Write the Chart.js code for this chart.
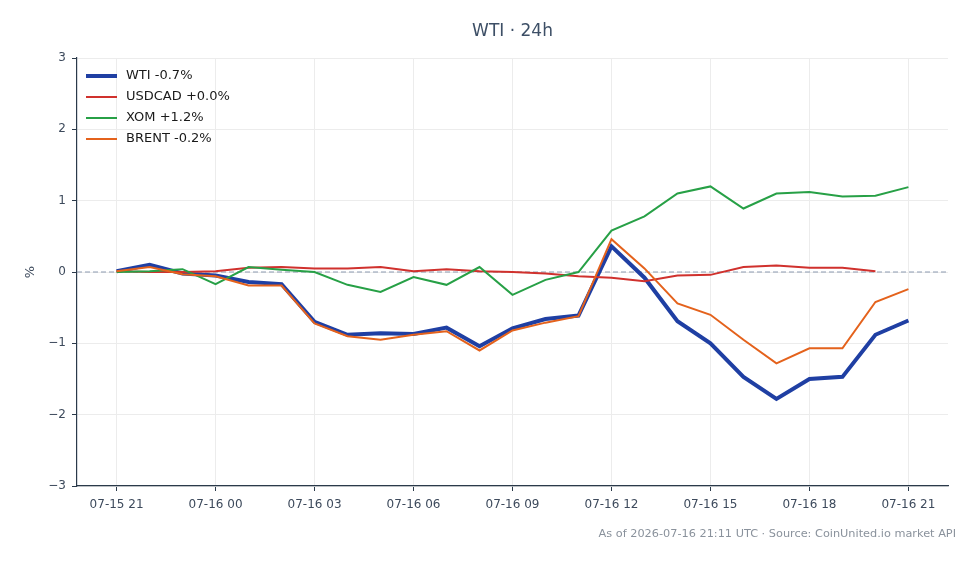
<!DOCTYPE html>
<html>
<head>
<meta charset="utf-8">
<script src="https://cdn.jsdelivr.net/npm/chart.js@4"></script>
<style>
  html, body { margin: 0; padding: 0; background: #fff; }
  #wrap { width: 980px; height: 564px; }
</style>
</head>
<body>
<div id="wrap"><canvas id="chart" width="980" height="564"></canvas></div>
<script>
// hourly points, 07-15 21 -> 07-16 21
const hours = ['07-15 21', '07-15 22', '07-15 23', '07-16 00', '07-16 01', '07-16 02', '07-16 03',
  '07-16 04', '07-16 05', '07-16 06', '07-16 07', '07-16 08', '07-16 09', '07-16 10', '07-16 11',
  '07-16 12', '07-16 13', '07-16 14', '07-16 15', '07-16 16', '07-16 17', '07-16 18', '07-16 19',
  '07-16 20', '07-16 21'];

const wti = [0.01, 0.10, -0.02, -0.05, -0.14, -0.17, -0.70, -0.88, -0.86, -0.87, -0.78, -1.04, -0.79,
  -0.66, -0.61, 0.36, -0.08, -0.69, -1.00, -1.47, -1.78, -1.50, -1.47, -0.88, -0.68];
const usdcad = [0.01, 0.00, 0.00, 0.01, 0.06, 0.07, 0.05, 0.05, 0.07, 0.01, 0.04, 0.01, 0.00,
  -0.02, -0.06, -0.08, -0.13, -0.05, -0.04, 0.07, 0.09, 0.06, 0.06, 0.01];
const xom = [0.00, 0.01, 0.04, -0.17, 0.07, 0.03, 0.00, -0.18, -0.28, -0.07, -0.18, 0.07, -0.32,
  -0.11, 0.00, 0.58, 0.78, 1.10, 1.20, 0.89, 1.10, 1.12, 1.06, 1.07, 1.19];
const brent = [0.01, 0.07, -0.03, -0.06, -0.19, -0.19, -0.72, -0.90, -0.95, -0.88, -0.83, -1.10, -0.82,
  -0.71, -0.62, 0.46, 0.05, -0.44, -0.60, -0.95, -1.28, -1.07, -1.07, -0.42, -0.24];

const seriesLabels = ['WTI -0.7%', 'USDCAD +0.0%', 'XOM +1.2%', 'BRENT -0.2%'];
const xTicks = [0, 3, 6, 9, 12, 15, 18, 21, 24];
const yTicks = [-3, -2, -1, 0, 1, 2, 3];

const FONT = 'DejaVu Sans';
const axisText = '#3d4a5c';

function pts(arr) { return arr.map((v, i) => ({ x: i, y: v })); }

const overlay = {
  id: 'overlay',
  beforeDatasetsDraw(chart) {
    const { ctx, chartArea: a, scales: { y } } = chart;
    const y0 = y.getPixelForValue(0);
    ctx.save();
    ctx.strokeStyle = '#8c9ab0';
    ctx.lineWidth = 1;
    ctx.setLineDash([5, 3]);
    ctx.beginPath();
    ctx.moveTo(a.left, y0);
    ctx.lineTo(a.right, y0);
    ctx.stroke();
    ctx.restore();
  },
  afterDraw(chart) {
    const { ctx, chartArea: a } = chart;
    ctx.save();
    // title
    ctx.fillStyle = '#3d4f66';
    ctx.font = '17px ' + FONT;
    ctx.textAlign = 'center';
    ctx.textBaseline = 'middle';
    ctx.fillText('WTI · 24h', (a.left + a.right) / 2, 32);
    // y axis label
    ctx.save();
    ctx.translate(31, (a.top + a.bottom) / 2);
    ctx.rotate(-Math.PI / 2);
    ctx.fillStyle = axisText;
    ctx.font = '13px ' + FONT;
    ctx.fillText('%', 0, 0);
    ctx.restore();
    // footer
    ctx.fillStyle = '#8a929c';
    ctx.font = '11.3px ' + FONT;
    ctx.textAlign = 'right';
    ctx.fillText('As of 2026-07-16 21:11 UTC · Source: CoinUnited.io market API', 956, 534);
    // legend
    ctx.font = '13px ' + FONT;
    ctx.textAlign = 'left';
    chart.data.datasets.forEach((ds, i) => {
      const yy = 76 + i * 21;
      ctx.strokeStyle = ds.borderColor;
      ctx.lineWidth = ds.borderWidth;
      ctx.beginPath();
      ctx.moveTo(86, yy);
      ctx.lineTo(117, yy);
      ctx.stroke();
      ctx.fillStyle = '#1a1a1a';
      ctx.fillText(ds.label, 126, yy);
    });
    ctx.restore();
  }
};

new Chart(document.getElementById('chart'), {
  type: 'line',
  data: {
    datasets: [
      { label: seriesLabels[0], data: pts(wti), borderColor: '#1f3fa3', borderWidth: 4, order: 4 },
      { label: seriesLabels[1], data: pts(usdcad), borderColor: '#d0312d', borderWidth: 2, order: 3 },
      { label: seriesLabels[2], data: pts(xom), borderColor: '#27a046', borderWidth: 2, order: 2 },
      { label: seriesLabels[3], data: pts(brent), borderColor: '#e4621c', borderWidth: 2, order: 1 }
    ]
  },
  options: {
    responsive: false,
    animation: false,
    layout: { padding: { top: 58, right: 32, left: 0, bottom: 0 } },
    elements: { point: { radius: 0 }, line: { tension: 0, fill: false } },
    plugins: { legend: { display: false }, tooltip: { enabled: false } },
    scales: {
      x: {
        type: 'linear',
        min: -1.2,
        max: 25.2,
        afterBuildTicks(scale) { scale.ticks = xTicks.map(v => ({ value: v })); },
        afterFit(scale) { scale.height = 78; },
        ticks: {
          autoSkip: false,
          maxRotation: 0,
          padding: 7,
          color: axisText,
          font: { family: FONT, size: 12 },
          callback: v => hours[v]
        },
        grid: { color: '#ececec', tickColor: '#2b3a4a', tickLength: 5 },
        border: { color: '#2b3a4a', width: 1.2 }
      },
      y: {
        min: -3,
        max: 3,
        afterBuildTicks(scale) { scale.ticks = yTicks.map(v => ({ value: v })); },
        afterFit(scale) { scale.width = 77; },
        ticks: {
          padding: 6,
          color: axisText,
          font: { family: FONT, size: 12 },
          callback: v => String(v).replace('-', '\u2212')
        },
        grid: { color: '#ececec', tickColor: '#2b3a4a', tickLength: 5 },
        border: { color: '#2b3a4a', width: 1.2 }
      }
    }
  },
  plugins: [overlay]
});
</script>
</body>
</html>
